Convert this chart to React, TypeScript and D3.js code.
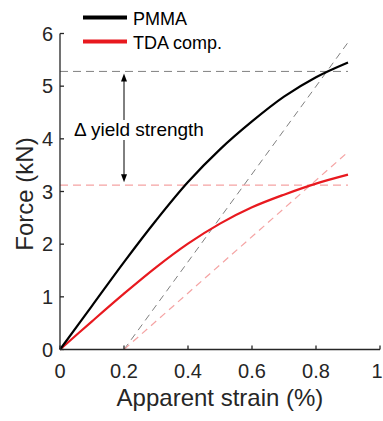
import React from "react";
import * as d3 from "d3";

const pmmaStrain = [0, 0.1, 0.2, 0.3, 0.4, 0.5, 0.6, 0.7, 0.8, 0.9];
const pmmaForce = [0, 0.83, 1.66, 2.45, 3.18, 3.8, 4.33, 4.8, 5.17, 5.45];
const tdaStrain = [0, 0.1, 0.2, 0.3, 0.4, 0.5, 0.6, 0.7, 0.8, 0.9];
const tdaForce = [0, 0.535, 1.06, 1.56, 2.01, 2.39, 2.7, 2.94, 3.15, 3.32];
const pmmaYield = 5.28;
const tdaYield = 3.12;
const offsetStrain = 0.2;
const pmmaOffsetEnd = [0.9, 5.83];
const tdaOffsetEnd = [0.9, 3.75];
const xTicks = [0, 0.2, 0.4, 0.6, 0.8, 1];
const yTicks = [0, 1, 2, 3, 4, 5, 6];
const legendLabels = ["PMMA", "TDA comp."];
const arrowStrain = 0.2;

const W = 383, H = 421;
const FONT = "'Liberation Sans', Arial, Helvetica, sans-serif";
const TXT = "#262626";
const RED = "#e8191f";
const GRAY = "#808080";
const PINK = "#f5a3a3";

export default function App() {
  const x = d3.scaleLinear().domain([0, 1]).range([60, 380]);
  const y = d3.scaleLinear().domain([0, 6]).range([349.5, 33.5]);
  const line = d3.line<[number, number]>().x(d => x(d[0])).y(d => y(d[1])).curve(d3.curveCatmullRom);
  const pm = pmmaStrain.map((s, i) => [s, pmmaForce[i]] as [number, number]);
  const td = tdaStrain.map((s, i) => [s, tdaForce[i]] as [number, number]);
  const ax = x(arrowStrain);
  const yTop = y(pmmaYield) + 2;
  const yBot = y(tdaYield) - 3;
  return (
    <svg width={W} height={H} style={{ position: "absolute", left: 0, top: 0 }} fontFamily={FONT}>
      <rect width={W} height={H} fill="#fff" />
      {/* dashed reference lines */}
      <line x1={x(0)} x2={x(0.9)} y1={y(pmmaYield)} y2={y(pmmaYield)} stroke={GRAY} strokeWidth={1} strokeDasharray="8,5" />
      <line x1={x(0)} x2={x(0.9)} y1={y(tdaYield)} y2={y(tdaYield)} stroke={PINK} strokeWidth={1.3} strokeDasharray="8,5" />
      <line x1={x(offsetStrain)} y1={y(0)} x2={x(pmmaOffsetEnd[0])} y2={y(pmmaOffsetEnd[1])} stroke={GRAY} strokeWidth={1} strokeDasharray="7,5" />
      <line x1={x(offsetStrain)} y1={y(0)} x2={x(tdaOffsetEnd[0])} y2={y(tdaOffsetEnd[1])} stroke={PINK} strokeWidth={1.2} strokeDasharray="7,5" />
      {/* curves */}
      <path d={line(td) || ""} fill="none" stroke={RED} strokeWidth={2.2} />
      <path d={line(pm) || ""} fill="none" stroke="#000" strokeWidth={2.2} />
      {/* arrow */}
      <line x1={ax} x2={ax} y1={yTop + 6} y2={120} stroke="#000" strokeWidth={1} />
      <line x1={ax} x2={ax} y1={140} y2={yBot - 6} stroke="#000" strokeWidth={1} />
      <path d={`M${ax},${yTop} L${ax - 3},${yTop + 8} L${ax + 3},${yTop + 8} Z`} fill="#000" />
      <path d={`M${ax},${yBot} L${ax - 3},${yBot - 8} L${ax + 3},${yBot - 8} Z`} fill="#000" />
      <text x={74} y={136} fontSize={19} fill="#000">Δ yield strength</text>
      {/* axes */}
      <line x1={x(0)} x2={x(1)} y1={y(0)} y2={y(0)} stroke={TXT} strokeWidth={1.3} />
      <line x1={x(0)} x2={x(0)} y1={y(0)} y2={y(6)} stroke={TXT} strokeWidth={1.3} />
      {xTicks.map(t => (
        <g key={"x" + t}>
          <line x1={x(t)} x2={x(t)} y1={y(0)} y2={y(0) - 4} stroke={TXT} strokeWidth={1.3} />
          <text x={Math.min(x(t), 377)} y={378} fontSize={20} textAnchor="middle" fill={TXT}>{String(t)}</text>
        </g>
      ))}
      {yTicks.map(t => (
        <g key={"y" + t}>
          <line x1={x(0)} x2={x(0) + 4} y1={y(t)} y2={y(t)} stroke={TXT} strokeWidth={1.3} />
          <text x={53} y={y(t) + 7} fontSize={20} textAnchor="end" fill={TXT}>{String(t)}</text>
        </g>
      ))}
      <text x={220} y={406} fontSize={24} textAnchor="middle" fill={TXT}>Apparent strain (%)</text>
      <text transform={`translate(33,194) rotate(-90)`} fontSize={24} textAnchor="middle" fill={TXT}>Force (kN)</text>
      {/* legend */}
      <line x1={83} x2={127} y1={17.5} y2={17.5} stroke="#000" strokeWidth={4} />
      <line x1={83} x2={127} y1={41.5} y2={41.5} stroke={RED} strokeWidth={4} />
      <text x={133} y={25} fontSize={18} fill="#000">{legendLabels[0]}</text>
      <text x={133} y={49} fontSize={18} fill="#000">{legendLabels[1]}</text>
    </svg>
  );
}
